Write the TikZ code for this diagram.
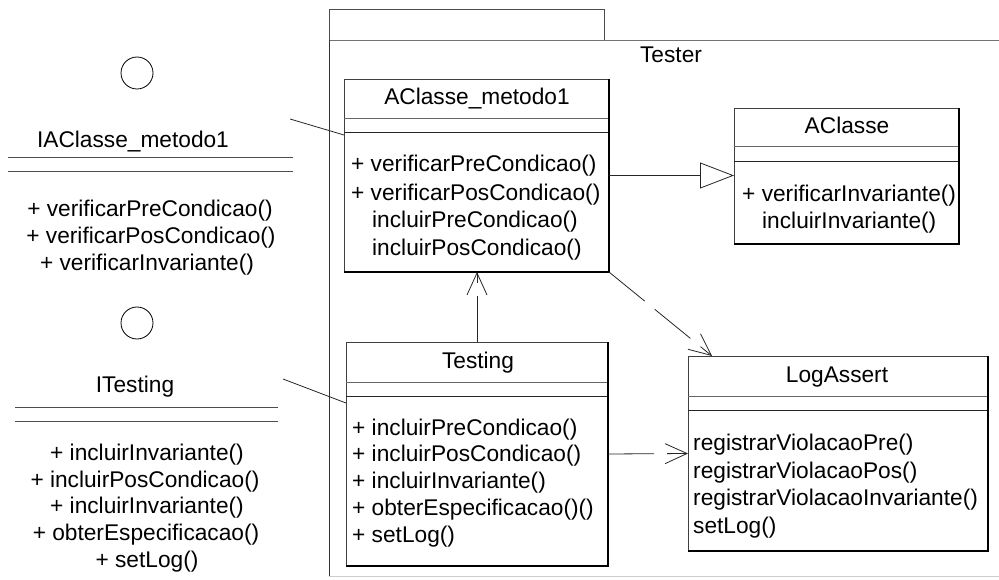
\documentclass[tikz,border=0pt]{standalone}
\usepackage{fontspec}
\setmainfont{Liberation Sans}
\usetikzlibrary{arrows.meta,calc}
\begin{document}
\begin{tikzpicture}[x=1pt,y=-1pt,
  txt/.style={font=\fontsize{22.7}{27}\selectfont, inner sep=0pt, text height=16pt, text depth=5pt},
  mth/.style={txt, anchor=west},
  ctr/.style={txt, anchor=center},
  clsbox/.style={draw=black!75, line width=0.9pt, anchor=north west, inner sep=0pt, outer sep=0pt, fill=white},
  heavy/.style={draw=black, line width=1.6pt},
  sepline/.style={draw=black!60, line width=0.9pt},
  sepline2/.style={draw=black!85, line width=0.9pt},
  ifcline/.style={draw=black!70, line width=0.9pt},
  assoc/.style={draw=black!85, line width=0.8pt},
  dep/.style={draw=black!85, line width=0.8pt, dash pattern=on 46pt off 13pt, -{Straight Barb[length=22pt,width=20pt,line width=0.8pt]}},
  gen/.style={draw=black!85, line width=0.8pt, -{Triangle[open,length=34pt,width=26pt,line width=0.8pt,fill=white]}},
  ifc/.style={circle, draw=black, line width=0.8pt, minimum size=32pt, inner sep=0pt}]
\useasboundingbox (0,0) rectangle (999,580);

% package
\draw[draw=black!70, line width=0.8pt] (329,9) rectangle (604,40);
\draw[draw=black!55, line width=0.8pt] (329,40) -- (999,40);
\draw[draw=black!80, line width=0.9pt] (329,40) -- (329,576);
\draw[draw=black!20, line width=1pt] (329,576) -- (999,576);
\node[ctr] (tester) at (671,57) {Tester};

% interface IAClasse_metodo1
\node[ifc] (i1) at (137,73) {};
\node[ctr] (i1name) at (133,142) {IAClasse\_metodo1};
\draw[ifcline] (8,157) -- (293,157);
\draw[ifcline] (8,171) -- (293,171);
\node[ctr] (i1m1) at (150,211) {+ verificarPreCondicao()};
\node[ctr] (i1m2) at (151,238) {+ verificarPosCondicao()};
\node[ctr] (i1m3) at (147,265) {+ verificarInvariante()};
\coordinate (i1end) at (290,119);

% interface ITesting
\node[ifc] (i2) at (137,323) {};
\node[ctr] (i2name) at (135,387) {ITesting};
\draw[ifcline] (15,407) -- (278,407);
\draw[ifcline] (15,421) -- (278,421);
\node[ctr] (i2m1) at (147,455) {+ incluirInvariante()};
\node[ctr] (i2m2) at (145,482) {+ incluirPosCondicao()};
\node[ctr] (i2m3) at (147,508) {+ incluirInvariante()};
\node[ctr] (i2m4) at (146,535) {+ obterEspecificacao()};
\node[ctr] (i2m5) at (147,562) {+ setLog()};
\coordinate (i2end) at (283,379);

% class AClasse_metodo1
\node[clsbox, minimum width=265pt, minimum height=193pt] (M) at (344,79) {};
\draw[sepline] ($(M.north west)+(0,39)$) -- ($(M.north east)+(0,39)$);
\draw[sepline2] ($(M.north west)+(0,53)$) -- ($(M.north east)+(0,53)$);
\draw[heavy] (M.north east) -- (M.south east) -- (M.south west);
\node[ctr] (Mt) at (477,99) {AClasse\_metodo1};
\node[mth] (Mm1) at (351,166) {+ verificarPreCondicao()};
\node[mth] (Mm2) at (351,195) {+ verificarPosCondicao()};
\node[mth] (Mm3) at (372,222) {incluirPreCondicao()};
\node[mth] (Mm4) at (372,250) {incluirPosCondicao()};

% class AClasse
\node[clsbox, minimum width=225pt, minimum height=136pt] (A) at (734,108) {};
\draw[sepline] ($(A.north west)+(0,38)$) -- ($(A.north east)+(0,38)$);
\draw[sepline2] ($(A.north west)+(0,53)$) -- ($(A.north east)+(0,53)$);
\draw[heavy] (A.north east) -- (A.south east) -- (A.south west);
\node[ctr] (At) at (847,128) {AClasse};
\node[mth] (Am1) at (742,196) {+ verificarInvariante()};
\node[mth] (Am2) at (762,223) {incluirInvariante()};

% class Testing
\node[clsbox, minimum width=262pt, minimum height=224pt] (T) at (346,342) {};
\draw[sepline] ($(T.north west)+(0,40)$) -- ($(T.north east)+(0,40)$);
\draw[sepline2] ($(T.north west)+(0,54)$) -- ($(T.north east)+(0,54)$);
\draw[heavy] (T.north east) -- (T.south east) -- (T.south west);
\node[ctr] (Tt) at (478,363) {Testing};
\node[mth] (Tm1) at (352,430) {+ incluirPreCondicao()};
\node[mth] (Tm2) at (352,456) {+ incluirPosCondicao()};
\node[mth] (Tm3) at (352,483) {+ incluirInvariante()};
\node[mth] (Tm4) at (352,510) {+ obterEspecificacao()()};
\node[mth] (Tm5) at (352,537) {+ setLog()};

% class LogAssert
\node[clsbox, minimum width=300pt, minimum height=195pt] (L) at (688,356) {};
\draw[sepline] ($(L.north west)+(0,40)$) -- ($(L.north east)+(0,40)$);
\draw[sepline2] ($(L.north west)+(0,54)$) -- ($(L.north east)+(0,54)$);
\draw[heavy] (L.north east) -- (L.south east) -- (L.south west);
\node[ctr] (Lt) at (837,377) {LogAssert};
\node[mth] (Lm1) at (693,445) {registrarViolacaoPre()};
\node[mth] (Lm2) at (693,473) {registrarViolacaoPos()};
\node[mth] (Lm3) at (693,500) {registrarViolacaoInvariante()};
\node[mth] (Lm4) at (693,528) {setLog()};

% connectors
\draw[assoc] (i1end) -- ($(M.north west)+(0,56)$);
\draw[assoc] (i2end) -- ($(T.north west)+(0,61)$);
\draw[gen] (M.east) -- (M.east -| A.west);
\draw[dep] (T.north) -- (T.north |- M.south);
\draw[dep] (M.south east) -- ($(L.north west)+(24,0)$);
\draw[dep] (T.east) -- (L.west);
\end{tikzpicture}
\end{document}
